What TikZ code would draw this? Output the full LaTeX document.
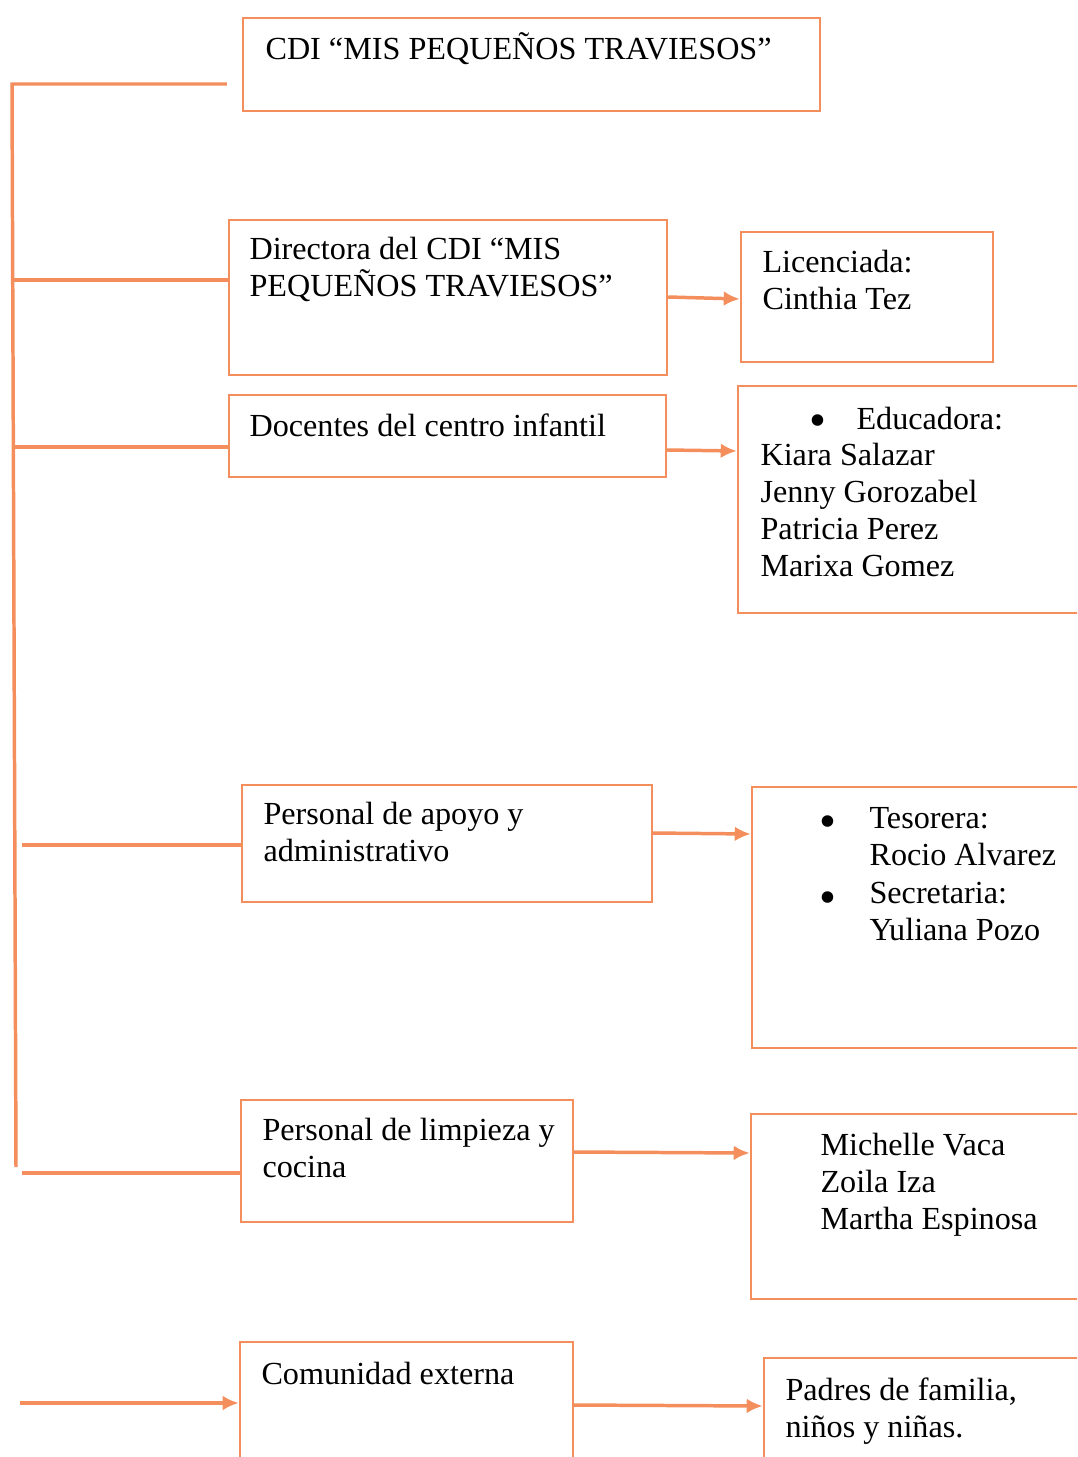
\documentclass[tikz,border=0pt]{standalone}
\usepackage{fontspec}
\setmainfont{Liberation Serif}
\usetikzlibrary{arrows.meta}
\usetikzlibrary{fit}
\definecolor{orgline}{RGB}{244,142,92}

\tikzset{
	box/.style = {draw = orgline, line width = 0.9pt, inner sep = 0pt},
	txt/.style = {anchor = north west, inner sep = 0pt, align = left, font = \fontsize{12}{13.8}\selectfont},
	dot/.style = {anchor = center, inner sep = 0pt, font = \fontsize{18}{18}\selectfont},
	link/.style = {draw = orgline, line width = 1.3pt},
	flow/.style = {link, -{Latex[length = 6pt, width = 5.5pt]}}
}

\begin{document}
\begin{tikzpicture}[x = 0.373pt, y = -0.373pt]
	\useasboundingbox (0,0) rectangle (1077,1457);
	\clip (0,0) rectangle (1077,1457);

	% boxes on the left
	\node [box, fit = {(243,18) (820,111)}] (title) {};
	\node [box, fit = {(229,220) (667,375)}] (dir) {};
	\node [box, fit = {(229,395) (666,477)}] (doc) {};
	\node [box, fit = {(242,785) (652,902)}] (apoyo) {};
	\node [box, fit = {(241,1100) (573,1222)}] (limp) {};
	\node [box, fit = {(240,1342) (573,1480)}] (com) {};

	% boxes on the right
	\node [box, fit = {(741,232) (993,362)}] (lic) {};
	\node [box, fit = {(738,386) (1100,613)}] (educ) {};
	\node [box, fit = {(752,787) (1100,1048)}] (teso) {};
	\node [box, fit = {(751,1114) (1100,1299)}] (cocina) {};
	\node [box, fit = {(764,1358) (1100,1480)}] (padres) {};

	% texts
	\node [txt] at (265,32) {CDI “MIS PEQUEÑOS TRAVIESOS”};
	\node [txt] at (249,237) {Directora del CDI “MIS\\PEQUEÑOS TRAVIESOS”};
	\node [txt] at (249,413) {Docentes del centro infantil};
	\node [txt] at (263,802) {Personal de apoyo y\\administrativo};
	\node [txt] at (262,1118) {Personal de limpieza y\\cocina};
	\node [txt] at (261,1362) {Comunidad externa};

	\node [txt] at (762,250) {Licenciada:\\Cinthia Tez};
	\node [dot] at (818,426) {\textbullet};
	\node [txt] at (856,407) {Educadora:};
	\node [txt] at (760,443) {Kiara Salazar\\Jenny Gorozabel\\Patricia Perez\\Marixa Gomez};
	\node [dot] at (828,827) {\textbullet};
	\node [txt] at (869,807) {Tesorera:\\Rocio Alvarez};
	\node [dot] at (828,903) {\textbullet};
	\node [txt] at (869,882) {Secretaria:\\Yuliana Pozo};
	\node [txt] at (820,1133) {Michelle Vaca\\Zoila Iza\\Martha Espinosa};
	\node [txt] at (785,1377) {Padres de familia,\\niños y niñas.};

	% trunk on the left
	\coordinate (t0) at (12,84);
	\coordinate (t1) at (12,280);
	\coordinate (t2) at (12,447);
	\coordinate (t3) at (22,845);
	\coordinate (t4) at (22,1173);
	\coordinate (tend) at (16,1167);
	\coordinate (t5) at (20,1403);

	\draw [link] (tend) -- (t0) -- ([xshift = -5.6pt]title.west |- t0);
	\draw [link] (t1) -- (dir.west |- t1);
	\draw [link] (t2) -- (doc.west |- t2);
	\draw [link] (t3) -- (apoyo.west |- t3);
	\draw [link] (t4) -- (limp.west |- t4);
	\draw [flow] (t5) -- (com.west |- t5);

	% arrows to the right
	\draw [flow] (dir.east |- 0,297) -- (lic.west |- 0,299);
	\draw [flow] (doc.east |- 0,450) -- (educ.west |- 0,451);
	\draw [flow] (apoyo.east |- 0,833) -- (teso.west |- 0,834);
	\draw [flow] (limp.east |- 0,1152) -- (cocina.west |- 0,1153);
	\draw [flow] (com.east |- 0,1405) -- (padres.west |- 0,1406);
\end{tikzpicture}
\end{document}
